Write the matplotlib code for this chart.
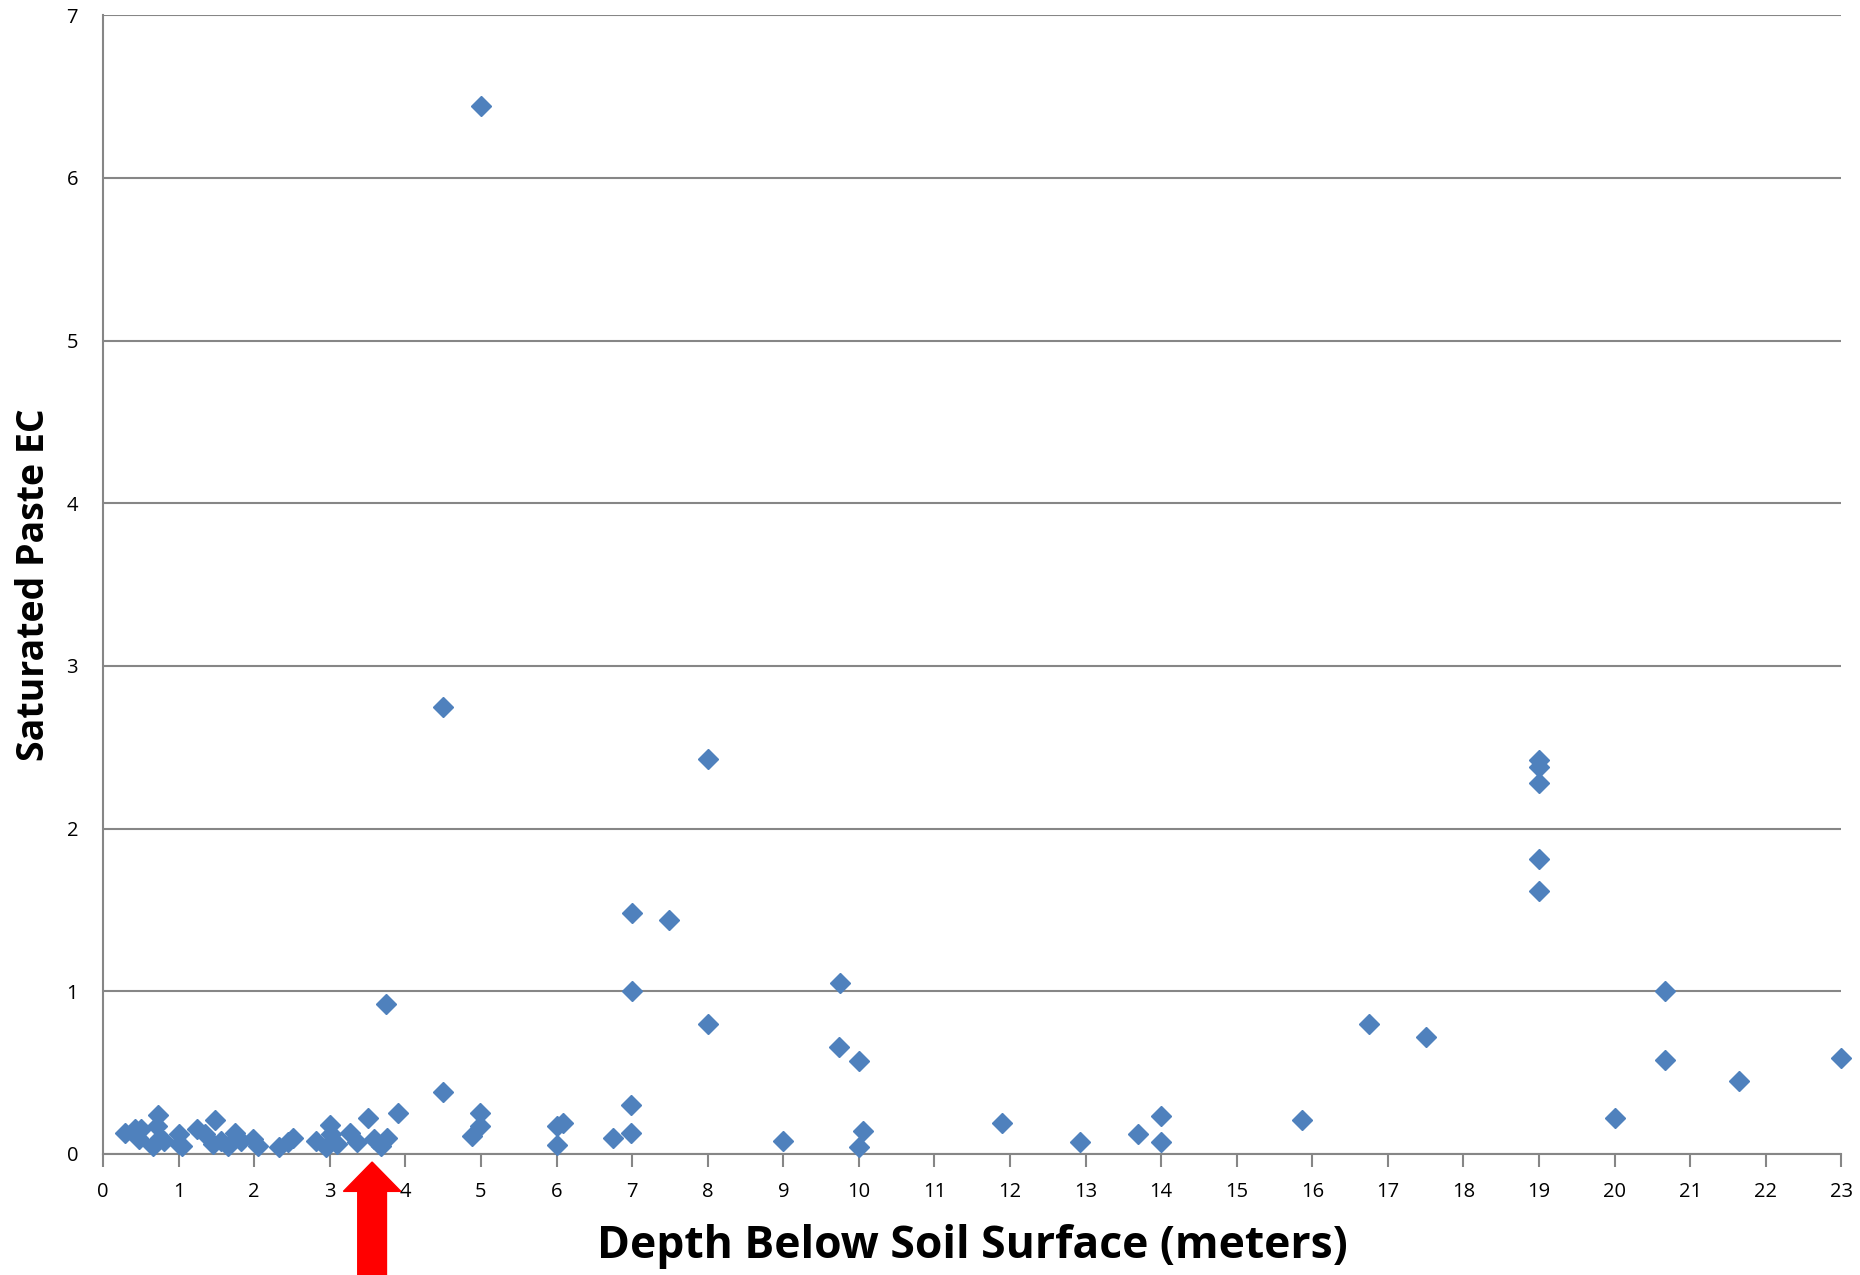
import matplotlib.pyplot as plt
from matplotlib.patches import FancyArrow
from matplotlib.transforms import blended_transform_factory

# depth (m) and saturated paste EC
depth = [0.29, 0.42, 0.5, 0.47, 0.66, 0.73, 0.72, 0.75, 0.8, 1.0, 1.0, 1.05,
         1.24, 1.35, 1.48, 1.45, 1.56, 1.65, 1.74, 1.83, 1.99, 2.05, 2.33, 2.45,
         2.51, 2.82, 2.95, 3.0, 3.02, 3.1, 3.27, 3.36, 3.51, 3.58, 3.68, 3.76,
         3.9, 3.75,
         4.5, 4.5, 4.99, 4.99, 4.88, 5.0,
         6.0, 6.09, 6.0, 6.75, 6.99, 6.99, 7.0, 7.0, 7.49, 8.0, 8.0,
         9.0, 9.75, 9.74, 10.0, 10.06, 10.0,
         11.9, 12.92, 13.7, 14.0, 14.0, 15.86, 16.75, 17.5,
         19.0, 19.0, 19.0, 19.0, 19.0,
         20.0, 20.66, 20.66, 21.65, 23.0]
ec = [0.13, 0.15, 0.15, 0.09, 0.05, 0.24, 0.17, 0.1, 0.08, 0.12, 0.06, 0.05,
      0.15, 0.12, 0.21, 0.06, 0.08, 0.05, 0.13, 0.08, 0.09, 0.05, 0.04, 0.07,
      0.1, 0.08, 0.04, 0.18, 0.12, 0.06, 0.13, 0.07, 0.22, 0.09, 0.05, 0.1,
      0.25, 0.92,
      0.38, 2.75, 0.25, 0.17, 0.11, 6.44,
      0.17, 0.19, 0.055, 0.1, 0.13, 0.3, 1.0, 1.48, 1.44, 0.8, 2.43,
      0.08, 1.05, 0.66, 0.57, 0.14, 0.04,
      0.19, 0.07, 0.12, 0.23, 0.07, 0.21, 0.8, 0.72,
      2.42, 2.38, 2.28, 1.81, 1.615,
      0.22, 1.0, 0.58, 0.45, 0.59]

xticks = list(range(0, 24))
yticks = list(range(0, 8))
arrow_x = 3.56

plt.rcParams['font.family'] = ['Open Sans', 'DejaVu Sans']

fig = plt.figure(figsize=(18.6, 12.75), dpi=100)
ax = fig.add_axes([0.0554, 0.095, 0.9346, 0.893])

ax.plot(depth, ec, linestyle='none', marker='D', markersize=10,
        color='#4F81BD', markeredgecolor='#4F81BD', zorder=3, clip_on=False)

ax.set_xlim(0, 23)
ax.set_ylim(0, 7)
ax.set_xticks(xticks)
ax.set_yticks(yticks)
ax.tick_params(axis='x', direction='out', length=9, width=1.5, color='#868686',
               labelsize=14.5, pad=11)
ax.tick_params(axis='y', direction='out', length=0, labelsize=14.5, pad=18)
ax.yaxis.grid(True, color='#868686', linewidth=1.5)
ax.set_axisbelow(True)
for s in ['top', 'right']:
    ax.spines[s].set_visible(False)
for s in ['left', 'bottom']:
    ax.spines[s].set_color('#868686')
    ax.spines[s].set_linewidth(1.5)

ax.set_xlabel('Depth Below Soil Surface (meters)', fontsize=32,
              fontweight='bold', labelpad=16)
ax.set_ylabel('Saturated Paste EC', fontsize=27, fontweight='bold',
              labelpad=10)

# red arrow pointing up at the depth of interest
tr = blended_transform_factory(ax.transData, fig.transFigure)
arr = FancyArrow(arrow_x, 0.0, 0, 0.0886, width=0.38, head_width=0.76,
                 head_length=0.023, length_includes_head=True,
                 color='red', transform=tr, clip_on=False)
fig.patches.append(arr)

fig.savefig('out.png', dpi=100)
